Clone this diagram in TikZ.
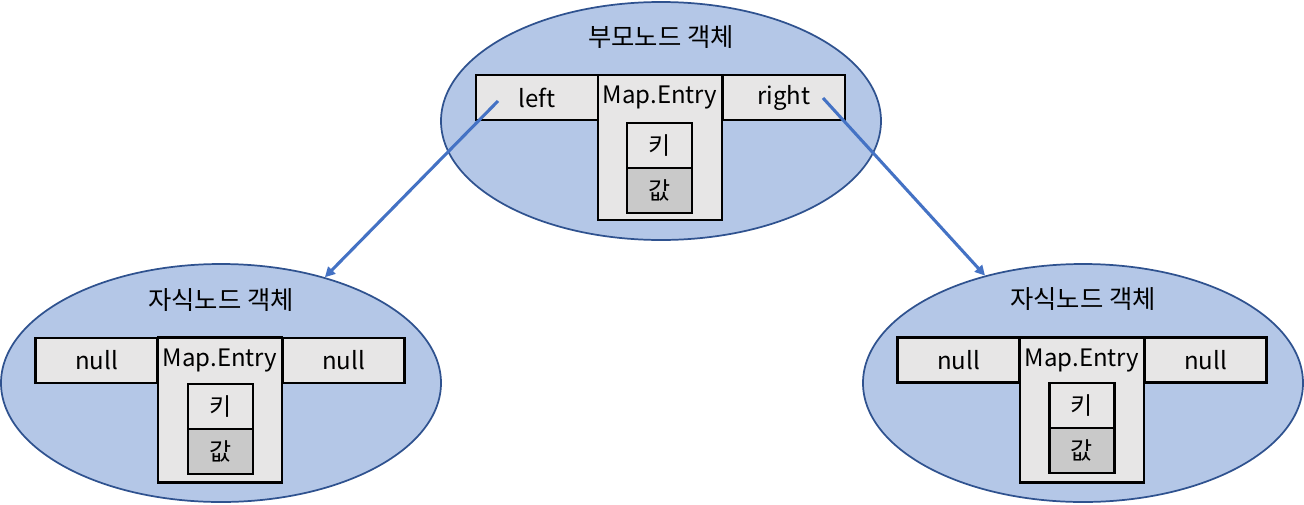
\documentclass[tikz,border=0pt]{standalone}
\usepackage{fontspec}
\setmainfont{Noto Sans CJK KR}
\usetikzlibrary{shapes.geometric,arrows.meta}
\definecolor{objfill}{HTML}{B4C7E7}
\definecolor{objline}{HTML}{2F528F}
\definecolor{linkblue}{HTML}{4472C4}
\definecolor{fieldgray}{HTML}{E7E6E6}
\definecolor{valgray}{HTML}{C9C9C9}
\tikzset{
  obj/.style={ellipse, draw=objline, fill=objfill, line width=1.3pt,
    minimum width=330pt, minimum height=178.5pt, inner sep=0pt},
  title/.style={inner sep=0pt, font=\fontsize{19}{22}\selectfont},
  field/.style={rectangle, draw, fill=fieldgray, line width=1.7pt,
    minimum width=91.5pt, minimum height=33.75pt, inner sep=0pt,
    font=\fontsize{18}{21}\selectfont},
  entry/.style={field, minimum width=93pt, minimum height=108.75pt},
  keybox/.style={field, minimum width=48.75pt, minimum height=33.75pt},
  valbox/.style={keybox, fill=valgray},
  entrytext/.style={inner sep=0pt, font=\fontsize{18}{21}\selectfont},
  link/.style={draw=linkblue, line width=2.3pt, -{Triangle[length=7.5pt,width=7.5pt]}}
}
\begin{document}
\begin{tikzpicture}[x=0.75pt, y=-0.75pt]
  \useasboundingbox (0,0) rectangle (1304,504);
  % parent object
  \node[obj] (p) at (661,121) {};
  \node[title] (ptitle) at (661,37) {부모노드 객체};
  \node[field] (pleft) at (537,97.5) {left};
  \node[field] (pright) at (784,97.5) {right};
  \node[entry] (pentry) at (660,147.5) {};
  \node[entrytext] (pmap) at (660,98) {Map.Entry};
  \node[keybox] (pkey) at (659.5,145.5) {키};
  \node[valbox] (pval) at (659.5,190.5) {값};
  % left child
  \node[obj] (lc) at (221,383) {};
  \node[title] (lctitle) at (221,300) {자식노드 객체};
  \node[field] (lcleft) at (96.5,360.5) {null};
  \node[field] (lcright) at (343.5,360.5) {null};
  \node[entry] (lcentry) at (220,410) {};
  \node[entrytext] (lcmap) at (220,361) {Map.Entry};
  \node[keybox] (lckey) at (220.5,406.5) {키};
  \node[valbox] (lcval) at (220.5,451.5) {값};
  % right child
  \node[obj] (rc) at (1083,383) {};
  \node[title] (rctitle) at (1083,299) {자식노드 객체};
  \node[field] (rcleft) at (958.5,360) {null};
  \node[field] (rcright) at (1205.5,360) {null};
  \node[entry] (rcentry) at (1082,410) {};
  \node[entrytext] (rcmap) at (1082,361) {Map.Entry};
  \node[keybox] (rckey) at (1082,405.5) {키};
  \node[valbox] (rcval) at (1082,450.5) {값};
  % links
  \coordinate (pl) at (498,101);
  \coordinate (pr) at (823,98);
  \draw[link] (pl) -- (lc);
  \draw[link] (pr) -- (rc);
\end{tikzpicture}
\end{document}
